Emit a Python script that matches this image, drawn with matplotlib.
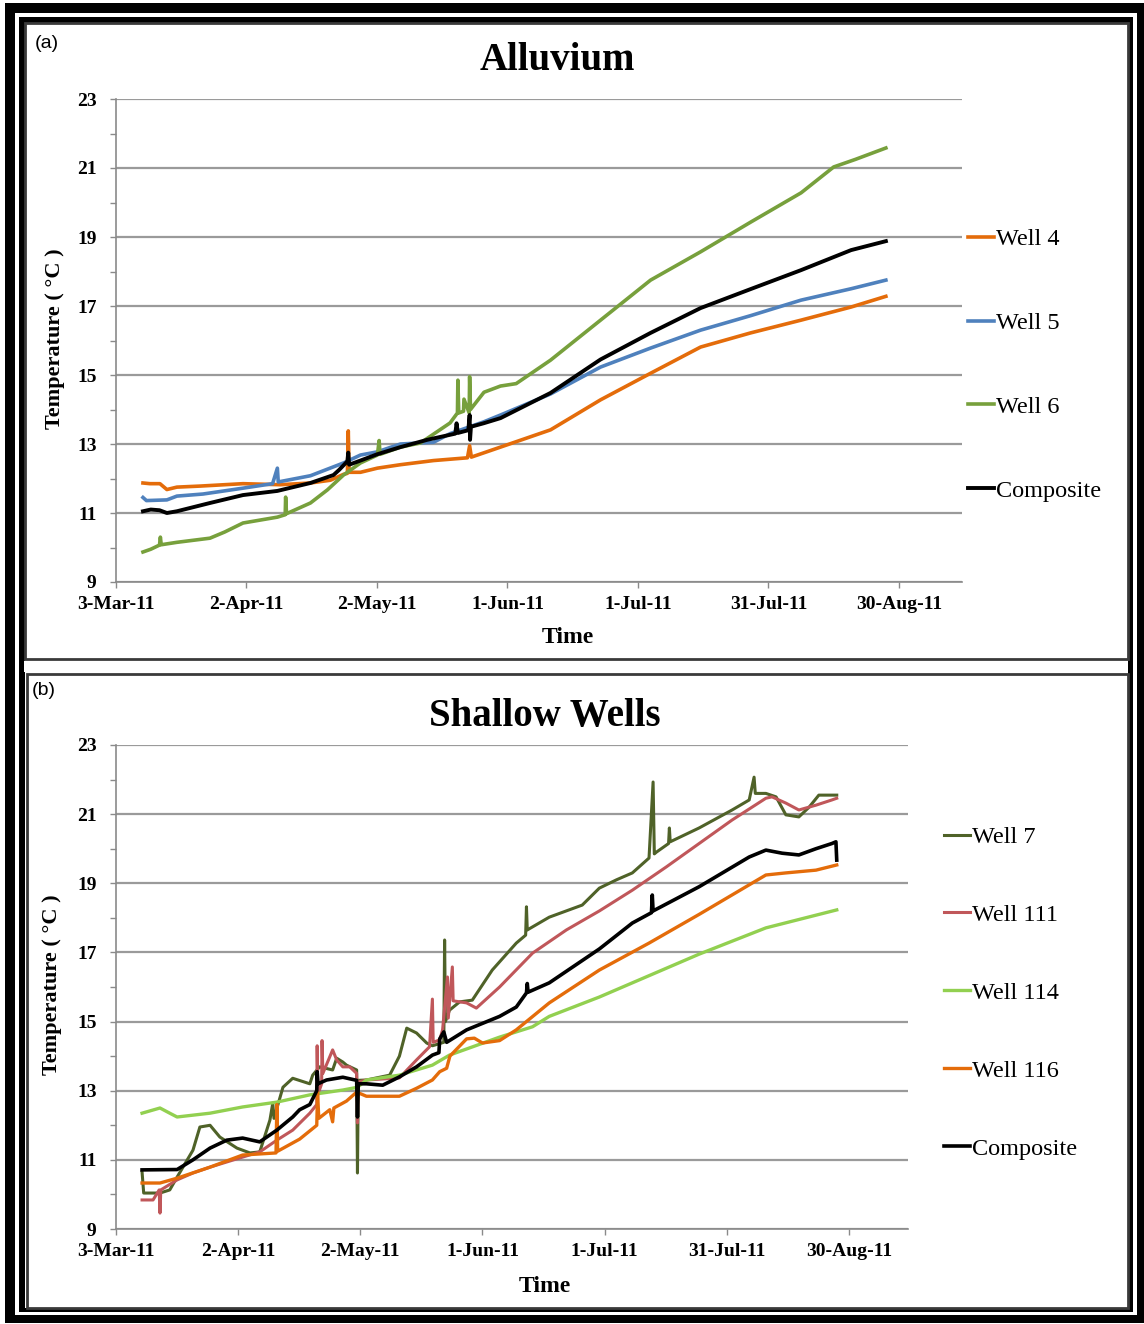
# -*- coding: utf-8 -*-

import numpy as np
import matplotlib
matplotlib.use("Agg")
import matplotlib.pyplot as plt
from matplotlib.patches import Rectangle
from matplotlib.ticker import MultipleLocator

W, H = 1144, 1324

# tick labels shared by both panels (days counted from 3-Mar-11)
tick_days = [0, 30, 60, 90, 120, 150, 180]
tick_labels = ['3-Mar-11', '2-Apr-11', '2-May-11', '1-Jun-11',
               '1-Jul-11', '31-Jul-11', '30-Aug-11']

# ---- (a) Alluvium ------------------------------------------------------
well4_day = [6.2, 7.8, 10.1, 11.7, 14.0, 19.3, 29.2, 37.8, 44.7, 49.3, 52.3,
             53.2, 53.4, 53.6, 56.2, 60.1, 65.4, 73.0, 80.8, 81.3, 81.7, 88.4,
             99.9, 111.4, 122.9, 134.4, 145.9, 157.5, 169.0, 177.0]
well4_temp = [11.87, 11.85, 11.85, 11.68, 11.75, 11.78, 11.85, 11.82, 11.87,
              11.95, 12.12, 12.15, 13.38, 12.18, 12.18, 12.30, 12.40, 12.52,
              12.60, 12.95, 12.62, 12.91, 13.41, 14.28, 15.05, 15.81, 16.22,
              16.59, 16.97, 17.28]

well5_day = [6.2, 7.0, 11.7, 14.0, 20.0, 29.2, 36.0, 37.1, 37.3, 44.7, 52.3,
             56.2, 60.0, 65.4, 73.0, 76.8, 84.5, 88.4, 99.9, 111.4, 122.9,
             134.4, 145.9, 157.5, 169.0, 177.0]
well5_temp = [11.45, 11.36, 11.38, 11.49, 11.55, 11.72, 11.85, 12.30, 11.90,
              12.08, 12.45, 12.68, 12.77, 13.00, 13.05, 13.30, 13.64, 13.84,
              14.45, 15.23, 15.78, 16.30, 16.72, 17.17, 17.50, 17.75]

well6_day = [6.2, 8.0, 10.0, 10.2, 10.4, 14.0, 21.6, 25.0, 29.2, 37.1, 38.9,
             39.0, 39.2, 44.7, 48.6, 52.3, 56.2, 60.1, 60.5, 60.7, 65.4, 70.0,
             76.8, 78.5, 78.6, 78.8, 79.9, 80.0, 81.2, 81.3, 81.5, 84.6, 88.4,
             92.0, 99.9, 111.4, 122.9, 134.4, 145.9, 157.5, 165.0, 170.0,
             177.0]
well6_temp = [9.87, 9.95, 10.07, 10.30, 10.08, 10.15, 10.27, 10.45, 10.71,
              10.88, 10.95, 11.46, 10.98, 11.29, 11.67, 12.10, 12.45, 12.68,
              13.10, 12.70, 12.91, 13.03, 13.61, 13.90, 14.85, 13.90, 13.95,
              14.30, 13.90, 14.95, 14.00, 14.50, 14.68, 14.75, 15.43, 16.59,
              17.75, 18.57, 19.43, 20.28, 21.03, 21.25, 21.58]

compa_day = [6.2, 8.0, 10.0, 11.7, 14.0, 21.6, 29.2, 37.1, 44.7, 50.0, 51.3,
             53.2, 53.4, 53.6, 56.2, 60.0, 65.4, 71.5, 78.0, 78.3, 78.6, 81.0,
             81.3, 81.4, 81.6, 84.5, 88.4, 99.9, 111.4, 122.9, 134.4, 145.9,
             157.5, 169.0, 177.0]
compa_temp = [11.05, 11.10, 11.08, 11.00, 11.05, 11.29, 11.52, 11.64, 11.87,
              12.10, 12.25, 12.50, 12.75, 12.40, 12.52, 12.70, 12.91, 13.12,
              13.30, 13.60, 13.32, 13.40, 13.84, 13.12, 13.50, 13.60, 13.75,
              14.48, 15.45, 16.22, 16.94, 17.49, 18.04, 18.62, 18.88]

# ---- (b) Shallow wells -------------------------------------------------
well7_day = [6.4, 6.8, 10.8, 13.2, 15.0, 18.9, 20.6, 23.1, 25.5, 29.7, 32.9,
             35.3, 37.8, 38.5, 38.8, 41.0, 43.4, 47.6, 48.3, 50.0, 53.2, 54.2,
             55.7, 56.6, 59.1, 59.3, 59.5, 61.5, 67.2, 69.6, 71.4, 73.8, 76.3,
             77.7, 80.5, 80.7, 80.9, 81.9, 84.4, 87.5, 92.4, 98.3, 100.6,
             100.8, 101.0, 106.4, 114.5, 118.7, 122.9, 126.8, 130.9, 131.9,
             132.2, 132.7, 135.7, 135.9, 136.1, 143.2, 151.3, 155.5, 156.7,
             157.0, 159.6, 162.1, 164.5, 167.7, 170.2, 172.6, 177.0]
well7_temp = [10.65, 10.04, 10.04, 10.13, 10.50, 11.28, 11.95, 12.00, 11.66,
              11.34, 11.20, 11.23, 12.15, 12.64, 12.20, 13.10, 13.36, 13.20,
              13.45, 13.69, 13.60, 13.94, 13.83, 13.74, 13.60, 10.62, 13.30,
              13.31, 13.45, 14.00, 14.81, 14.67, 14.38, 14.30, 14.40, 17.36,
              15.00, 15.33, 15.57, 15.62, 16.49, 17.27, 17.50, 18.32, 17.65,
              18.02, 18.37, 18.86, 19.10, 19.30, 19.73, 21.93, 19.85, 19.90,
              20.15, 20.60, 20.20, 20.60, 21.12, 21.41, 22.07, 21.60, 21.60,
              21.50, 20.98, 20.92, 21.20, 21.55, 21.55]

well111_day = [6.4, 9.1, 10.6, 10.8, 11.0, 15.0, 18.9, 23.1, 31.1, 35.3,
               39.5, 43.4, 47.6, 49.3, 49.4, 49.6, 50.5, 50.6, 50.8, 53.2,
               54.2, 55.7, 57.4, 59.1, 59.3, 59.5, 61.5, 69.6, 73.8, 77.0,
               77.7, 77.9, 79.5, 80.2, 81.4, 81.6, 82.6, 82.8, 86.1, 88.5,
               94.2, 102.3, 110.6, 118.7, 126.8, 135.1, 143.2, 151.3, 159.6,
               161.1, 164.5, 167.7, 171.9, 175.8, 177.0]
well111_temp = [9.84, 9.84, 10.13, 9.46, 10.13, 10.42, 10.62, 10.79, 11.08,
                11.23, 11.57, 11.86, 12.35, 12.60, 14.30, 12.90, 13.20, 14.45,
                13.50, 14.18, 13.89, 13.69, 13.69, 13.50, 12.07, 13.25, 13.31,
                13.37, 13.89, 14.27, 15.65, 14.40, 14.47, 14.76, 16.29, 15.10,
                16.58, 15.60, 15.54, 15.39, 16.00, 16.98, 17.65, 18.20, 18.80,
                19.47, 20.15, 20.83, 21.46, 21.50, 21.32, 21.12, 21.26, 21.41,
                21.46]

well114_day = [6.4, 10.8, 13.2, 15.0, 23.1, 31.1, 39.5, 47.6, 55.7, 59.3,
               61.5, 69.6, 77.7, 81.9, 94.2, 102.3, 106.4, 118.7, 143.2,
               159.6, 177.0]
well114_temp = [12.35, 12.50, 12.35, 12.24, 12.35, 12.53, 12.67, 12.88, 13.02,
                13.10, 13.31, 13.45, 13.74, 14.03, 14.55, 14.85, 15.15, 15.71,
                16.95, 17.71, 18.23]

well116_day = [6.4, 10.8, 15.0, 23.1, 31.1, 39.3, 39.5, 39.7, 45.1, 49.3,
               49.5, 49.8, 52.5, 53.2, 53.5, 56.6, 59.1, 61.5, 69.6, 73.8,
               77.7, 79.5, 81.2, 82.0, 86.1, 88.0, 90.0, 94.2, 98.3, 106.4,
               118.7, 130.9, 143.2, 159.6, 164.5, 171.9, 177.0]
well116_temp = [10.33, 10.33, 10.47, 10.79, 11.14, 11.20, 12.60, 11.25, 11.60,
                12.00, 12.95, 12.20, 12.45, 12.10, 12.50, 12.70, 12.96, 12.84,
                12.84, 13.07, 13.31, 13.55, 13.65, 14.00, 14.50, 14.52, 14.38,
                14.45, 14.76, 15.54, 16.49, 17.27, 18.10, 19.24, 19.30, 19.38,
                19.53]

compb_day = [6.4, 15.0, 18.9, 23.1, 27.2, 31.1, 35.3, 39.5, 43.4, 45.1, 47.6,
             49.3, 49.4, 49.6, 51.7, 55.7, 59.1, 59.3, 59.5, 61.5, 65.5, 69.6,
             73.8, 77.7, 79.3, 79.5, 80.5, 81.2, 86.1, 94.2, 98.3, 100.8,
             101.0, 101.2, 106.4, 118.7, 126.8, 131.5, 131.7, 131.9, 143.2,
             155.5, 159.6, 163.6, 167.7, 171.9, 175.8, 176.8, 177.0]
compb_temp = [10.71, 10.72, 11.00, 11.34, 11.57, 11.63, 11.52, 11.86, 12.24,
              12.45, 12.60, 13.00, 13.55, 13.20, 13.31, 13.39, 13.30, 12.24,
              13.20, 13.20, 13.16, 13.40, 13.69, 14.03, 14.10, 14.50, 14.70,
              14.40, 14.76, 15.15, 15.42, 15.83, 16.10, 15.85, 16.12, 17.10,
              17.85, 18.15, 18.66, 18.20, 18.90, 19.76, 19.96, 19.87, 19.82,
              20.00, 20.15, 20.20, 19.67]

SERIF = 'Liberation Serif'
SANS = 'Liberation Sans'
GRID = '#9a9a9a'


def fbox(x0, y0, x1, y1):
    """pixel box (top-left origin) -> figure fraction rect"""
    return [x0 / W, 1 - y1 / H, (x1 - x0) / W, (y1 - y0) / H]


def fpt(x, y):
    return x / W, 1 - y / H


def setup_axes(ax):
    ax.set_xlim(0, 194.5)
    ax.set_ylim(9, 23)
    ax.set_xticks(tick_days)
    ax.set_xticklabels(tick_labels)
    ax.yaxis.set_major_locator(MultipleLocator(2))
    ax.yaxis.set_minor_locator(MultipleLocator(1))
    ax.set_yticks(np.arange(9, 24, 2))
    ax.yaxis.grid(True, which='major', color=GRID, lw=1.6)
    ax.set_axisbelow(True)
    for s in ('top', 'right'):
        ax.spines[s].set_visible(False)
    for s in ('left', 'bottom'):
        ax.spines[s].set_color('#8a8a8a')
        ax.spines[s].set_linewidth(1.2)
    ax.tick_params(axis='both', which='both', direction='out', length=4,
                   color='#8a8a8a', width=1.0)
    ax.tick_params(axis='y', which='major', pad=10)
    ax.tick_params(axis='x', which='major', pad=6)
    for lab in ax.get_xticklabels() + ax.get_yticklabels():
        lab.set_fontfamily(SERIF)
        lab.set_fontweight('bold')
        lab.set_fontsize(14)
    ax.set_facecolor('none')


fig = plt.figure(figsize=(W / 100, H / 100), dpi=100)
fig.patch.set_facecolor('white')

# double black frame round the whole figure
for box, col in [((5, 3, 1144, 1323), 'black'),
                 ((15, 13, 1137, 1315), 'white'),
                 ((19, 17, 1133, 1312), 'black'),
                 ((25, 23, 1128, 1308), 'white')]:
    l, b, w, h = fbox(*box)
    fig.patches.append(Rectangle((l, b), w, h, transform=fig.transFigure,
                                 facecolor=col, edgecolor='none', zorder=-10))

# panel boxes
for box in [(25, 23, 1128, 659), (27, 674, 1128, 1308)]:
    l, b, w, h = fbox(*box)
    fig.patches.append(Rectangle((l, b), w, h, transform=fig.transFigure,
                                 facecolor='none', edgecolor='#3a3a3a',
                                 lw=2.0, zorder=-5))
# white strip between the two panels
l, b, w, h = fbox(24, 661, 1128, 672)
fig.patches.append(Rectangle((l, b), w, h, transform=fig.transFigure,
                             facecolor='white', edgecolor='none', zorder=-4))

# ---- panel (a)
axa = fig.add_axes(fbox(116, 99, 962, 582))
setup_axes(axa)
axa.plot(well4_day, well4_temp, color='#E46C0A', lw=2.6, label='Well 4')
axa.plot(well5_day, well5_temp, color='#4F81BD', lw=2.6, label='Well 5')
axa.plot(well6_day, well6_temp, color='#77A03C', lw=2.6, label='Well 6')
axa.plot(compa_day, compa_temp, color='black', lw=2.8, label='Composite')

axa.legend(loc='upper left', bbox_to_anchor=fpt(968, 228),
           bbox_transform=fig.transFigure, frameon=False,
           prop={'family': SERIF, 'size': 17.5}, handlelength=1.05,
           handletextpad=0.1, labelspacing=2.55, borderpad=0,
           borderaxespad=0)

fig.text(*fpt(557, 61), 'Alluvium', ha='center', va='center',
         family=SERIF, weight='bold', fontsize=28)
fig.text(*fpt(35, 44), '(a)', ha='left', va='center', family=SANS,
         fontsize=14)
fig.text(*fpt(568, 638), 'Time', ha='center', va='center', family=SERIF,
         weight='bold', fontsize=17)
fig.text(*fpt(55, 339), 'Temperature ( °C )', ha='center', va='center',
         rotation=90, family=SERIF, weight='bold', fontsize=16)

# ---- panel (b)
axb = fig.add_axes(fbox(116, 745, 908, 1229))
setup_axes(axb)
axb.plot(well7_day, well7_temp, color='#4F6228', lw=2.2, label='Well 7')
axb.plot(well111_day, well111_temp, color='#C0575A', lw=2.2,
         label='Well 111')
axb.plot(well114_day, well114_temp, color='#92D050', lw=2.4,
         label='Well 114')
axb.plot(well116_day, well116_temp, color='#E46C0A', lw=2.4,
         label='Well 116')
axb.plot(compb_day, compb_temp, color='black', lw=2.6, label='Composite')

axb.legend(loc='upper left', bbox_to_anchor=fpt(944, 826),
           bbox_transform=fig.transFigure, frameon=False,
           prop={'family': SERIF, 'size': 17.5}, handlelength=1.05,
           handletextpad=0.1, labelspacing=2.3, borderpad=0,
           borderaxespad=0)

fig.text(*fpt(545, 716), 'Shallow Wells', ha='center', va='center',
         family=SERIF, weight='bold', fontsize=28)
fig.text(*fpt(32, 691), '(b)', ha='left', va='center', family=SANS,
         fontsize=14)
fig.text(*fpt(545, 1287), 'Time', ha='center', va='center', family=SERIF,
         weight='bold', fontsize=17)
fig.text(*fpt(52, 985), 'Temperature ( °C )', ha='center', va='center',
         rotation=90, family=SERIF, weight='bold', fontsize=16)

fig.savefig('out.png', dpi=100)
